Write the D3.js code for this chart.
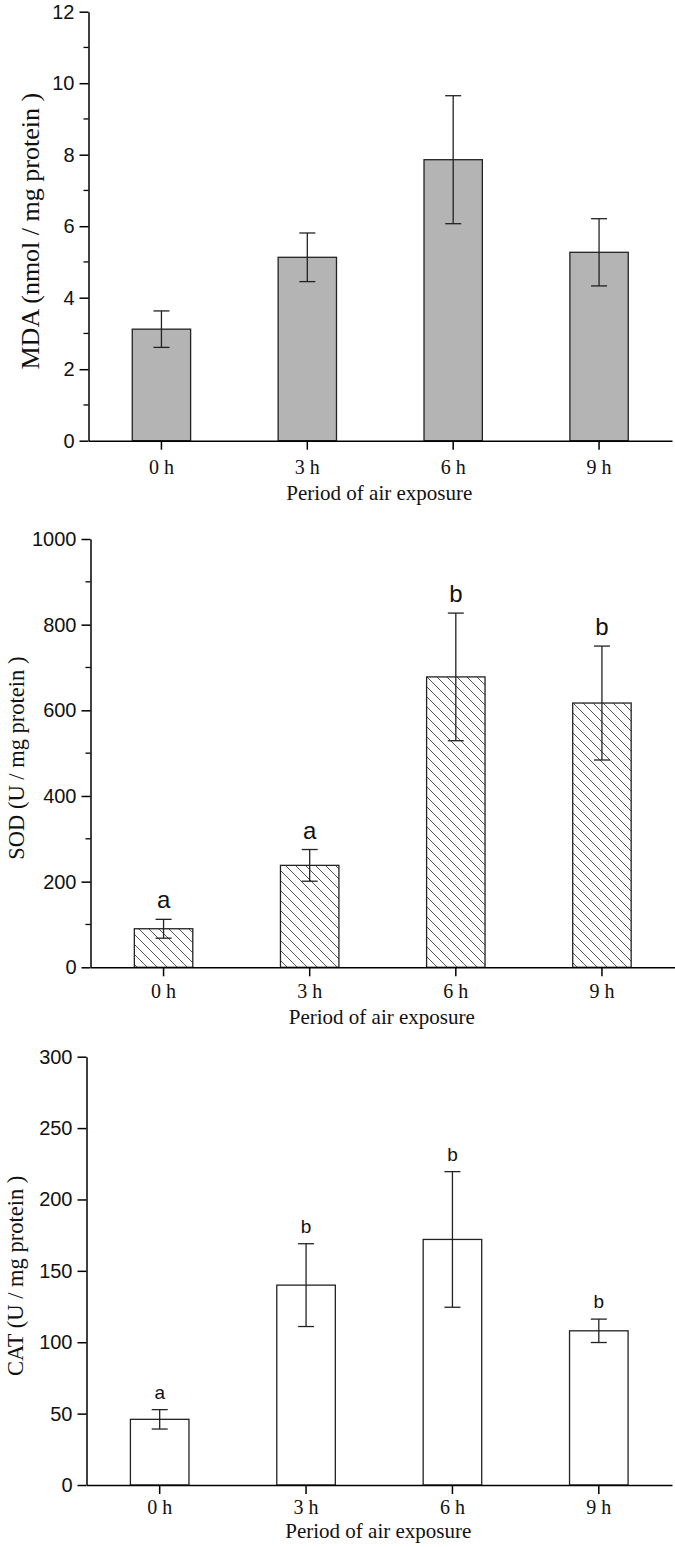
<!DOCTYPE html>
<html>
<head>
<meta charset="utf-8">
<script src="https://cdn.jsdelivr.net/npm/d3@7"></script>
<style>
  body { margin: 0; background: #fff; }
  svg { display: block; }
  .tick text { fill: #111; }
</style>
</head>
<body>
<svg id="chart" width="675" height="1547"></svg>
<script>
// data
var periods = ["0 h", "3 h", "6 h", "9 h"];

var mdaMean = [3.12, 5.13, 7.86, 5.27];
var mdaErr = [0.51, 0.68, 1.79, 0.94];
var mdaTicks = [0, 2, 4, 6, 8, 10, 12];

var sodMean = [90, 238, 678, 617];
var sodErr = [22, 37, 149, 133];
var sodLetters = ["a", "a", "b", "b"];
var sodTicks = [0, 200, 400, 600, 800, 1000];

var catMean = [46, 140, 172, 108];
var catErr = [6.8, 29, 47.5, 8.2];
var catLetters = ["a", "b", "b", "b"];
var catTicks = [0, 50, 100, 150, 200, 250, 300];

var xTitle = "Period of air exposure";

var svg = d3.select("#chart");

// hatch for the SOD bars
var defs = svg.append("defs");
defs.append("pattern")
    .attr("id", "hatch")
    .attr("patternUnits", "userSpaceOnUse")
    .attr("width", 10)
    .attr("height", 10)
    .append("path")
    .attr("d", "M-1,-1 L11,11 M-1,9 L1,11 M9,-1 L11,1")
    .attr("stroke", "#555")
    .attr("stroke-width", 1);

// panel layout (pixel boxes are per panel, values come from the arrays above)
var panels = [
    {mean: mdaMean, err: mdaErr, ticks: mdaTicks, letters: null, fill: "#b4b4b4",
     left: 88.5, right: 672, top: 11.7, bottom: 440.7, minor: true,
     label: "MDA (nmol / mg protein )", labelSize: 26, labelX: 39, tickGap: 19, titleGap: 59, letterSize: 23},
    {mean: sodMean, err: sodErr, ticks: sodTicks, letters: sodLetters, fill: "url(#hatch)",
     left: 90.5, right: 675, top: 539, bottom: 967.3, minor: true,
     label: "SOD (U / mg protein )", labelSize: 22.5, labelX: 24, tickGap: 17, titleGap: 57, letterSize: 24},
    {mean: catMean, err: catErr, ticks: catTicks, letters: catLetters, fill: "#fff",
     left: 86.5, right: 672, top: 1056.7, bottom: 1485, minor: false,
     label: "CAT (U / mg protein )", labelSize: 22.5, labelX: 23, tickGap: 15, titleGap: 53, letterSize: 19}
];

panels.forEach(drawPanel);

function drawPanel(p) {
    var g = svg.append("g");

    var x = d3.scaleBand()
        .domain(periods)
        .range([p.left, p.right])
        .paddingInner(0.6)
        .paddingOuter(0.3);

    var y = d3.scaleLinear()
        .domain([p.ticks[0], p.ticks[p.ticks.length - 1]])
        .range([p.bottom, p.top]);

    var rows = periods.map(function (d, i) {
        return {period: d, mean: p.mean[i], err: p.err[i], letter: p.letters ? p.letters[i] : null};
    });

    // bars
    g.selectAll("rect.bar")
        .data(rows)
        .enter()
        .append("rect")
        .attr("class", "bar")
        .attr("x", d => x(d.period))
        .attr("width", x.bandwidth())
        .attr("y", d => y(d.mean))
        .attr("height", d => y(0) - y(d.mean))
        .attr("fill", p.fill)
        .attr("stroke", "#222")
        .attr("stroke-width", 1.3);

    // error bars
    var cx = d => x(d.period) + x.bandwidth() / 2;
    var eb = g.selectAll("g.err")
        .data(rows)
        .enter()
        .append("g")
        .attr("class", "err")
        .attr("stroke", "#222")
        .attr("stroke-width", 1.3);
    eb.append("line")
        .attr("x1", cx).attr("x2", cx)
        .attr("y1", d => y(d.mean + d.err))
        .attr("y2", d => y(d.mean - d.err));
    eb.append("line")
        .attr("x1", d => cx(d) - 8).attr("x2", d => cx(d) + 8)
        .attr("y1", d => y(d.mean + d.err))
        .attr("y2", d => y(d.mean + d.err));
    eb.append("line")
        .attr("x1", d => cx(d) - 8).attr("x2", d => cx(d) + 8)
        .attr("y1", d => y(d.mean - d.err))
        .attr("y2", d => y(d.mean - d.err));

    // significance letters
    if (p.letters) {
        g.selectAll("text.letter")
            .data(rows)
            .enter()
            .append("text")
            .attr("class", "letter")
            .attr("x", cx)
            .attr("y", d => y(d.mean + d.err) - 11)
            .attr("text-anchor", "middle")
            .style("font-family", "Liberation Sans, Arial, sans-serif")
            .style("font-size", p.letterSize + "px")
            .attr("fill", "#111")
            .text(d => d.letter);
    }

    // minor ticks on y
    if (p.minor) {
        var step = p.ticks[1] - p.ticks[0];
        var minorTicks = p.ticks.slice(0, -1).map(t => t + step / 2);
        g.selectAll("line.minor")
            .data(minorTicks)
            .enter()
            .append("line")
            .attr("class", "minor")
            .attr("x1", p.left - 5).attr("x2", p.left)
            .attr("y1", d => y(d)).attr("y2", d => y(d))
            .attr("stroke", "#000")
            .attr("stroke-width", 1.3);
    }

    // y axis
    var yAxis = g.append("g")
        .attr("transform", "translate(" + p.left + ",0)")
        .call(d3.axisLeft(y).tickValues(p.ticks).tickFormat(d3.format("d"))
            .tickSize(9).tickSizeOuter(0).tickPadding(5));
    yAxis.selectAll("path, line").attr("stroke", "#000").attr("stroke-width", 1.5);
    yAxis.selectAll("text")
        .style("font-family", "Liberation Sans, Arial, sans-serif")
        .style("font-size", "20px");

    // x axis
    var xAxis = g.append("g")
        .attr("transform", "translate(0," + p.bottom + ")")
        .call(d3.axisBottom(x).tickSize(9).tickSizeOuter(0).tickPadding(p.tickGap - 9));
    xAxis.selectAll("path, line").attr("stroke", "#000").attr("stroke-width", 1.5);
    xAxis.selectAll("text")
        .style("font-family", "Liberation Serif, Times New Roman, serif")
        .style("font-size", "20px");

    // axis titles
    g.append("text")
        .attr("x", (p.left + p.right) / 2 - 1)
        .attr("y", p.bottom + p.titleGap)
        .attr("text-anchor", "middle")
        .style("font-family", "Liberation Serif, Times New Roman, serif")
        .style("font-size", "21px")
        .attr("fill", "#111")
        .text(xTitle);

    g.append("text")
        .attr("transform", "translate(" + p.labelX + "," + ((p.top + p.bottom) / 2 + 5) + ") rotate(-90)")
        .attr("text-anchor", "middle")
        .style("font-family", "Liberation Serif, Times New Roman, serif")
        .style("font-size", p.labelSize + "px")
        .attr("fill", "#111")
        .text(p.label);
}
</script>
</body>
</html>
